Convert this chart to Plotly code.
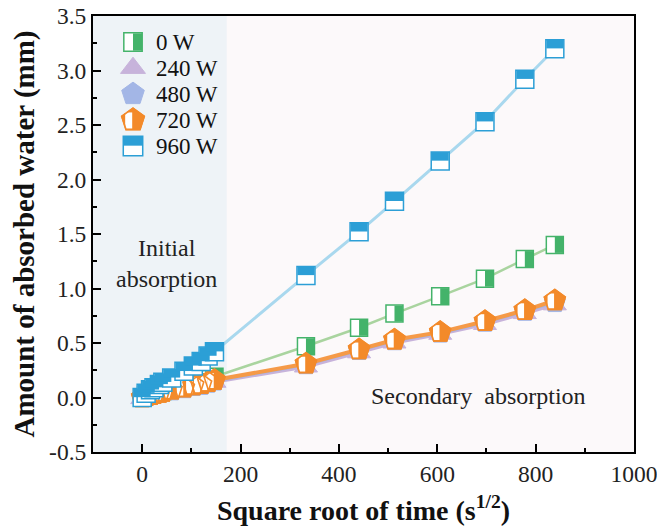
import plotly.graph_objects as go

# ---------------- data ----------------
sqrt_time = [0, 8, 17, 24, 35, 42, 60, 85, 104, 120, 134, 147,
             333, 441, 513, 606, 697, 778, 839]
water_0w = [0.00, 0.02, 0.03, 0.04, 0.05, 0.06, 0.08, 0.11, 0.13, 0.15, 0.17, 0.19,
            0.47, 0.64, 0.77, 0.93, 1.09, 1.27, 1.40]
water_240w = [-0.01, 0.00, 0.01, 0.02, 0.03, 0.04, 0.05, 0.07, 0.09, 0.10, 0.12, 0.14,
              0.28, 0.41, 0.50, 0.58, 0.67, 0.77, 0.85]
water_480w = [0.00, 0.01, 0.02, 0.03, 0.04, 0.05, 0.06, 0.08, 0.10, 0.11, 0.13, 0.15,
              0.30, 0.43, 0.52, 0.59, 0.69, 0.79, 0.87]
water_720w = [0.00, 0.01, 0.02, 0.03, 0.04, 0.05, 0.07, 0.09, 0.11, 0.12, 0.14, 0.16,
              0.31, 0.44, 0.53, 0.60, 0.70, 0.80, 0.89]
water_960w = [0.00, 0.04, 0.07, 0.09, 0.12, 0.14, 0.18, 0.24, 0.29, 0.33, 0.38, 0.42,
              1.12, 1.52, 1.80, 2.17, 2.53, 2.92, 3.20]
legend_labels = ["0 W", "240 W", "480 W", "720 W", "960 W"]
x_ticks = [0, 200, 400, 600, 800, 1000]
y_ticks = [-0.5, 0.0, 0.5, 1.0, 1.5, 2.0, 2.5, 3.0, 3.5]
initial_end = 172

# ---------------- layout constants ----------------
W, H = 657, 528
ML, MR, MT, MB = 93, 23, 16, 76
XR = [-100, 1000]
YR = [-0.5, 3.5]
px_x = (W - ML - MR) / (XR[1] - XR[0])
px_y = (H - MT - MB) / (YR[1] - YR[0])

GREEN, GREEN_L = "#44b36a", "#a9d49f"
PURPLE = "#c7b3db"
LAV = "#a3b6e6"
ORANGE, ORANGE_L = "#f38a2a", "#f59a48"
BLUE, BLUE_L = "#2c9fd6", "#a9d8ee"
SERIF = "Liberation Serif, Times New Roman, serif"

fig = go.Figure()


def add_series(y, name, kind, xs=None, ys=None, xa="x", ya="y", sx=1.0, sy=1.0, lines=True, scale=1.0):
    xs = sqrt_time if xs is None else xs
    ys = y if ys is None else ys
    mode = "lines+markers" if lines else "markers"
    common = dict(xaxis=xa, yaxis=ya, showlegend=False, hoverinfo="skip")
    s = scale
    if kind == "0":
        fig.add_trace(go.Scatter(x=xs, y=ys, mode=mode, name=name,
                                 line=dict(color=GREEN_L, width=2.5),
                                 marker=dict(symbol="square", size=17 * s, color="white",
                                             line=dict(color=GREEN, width=1.5)), **common))
        fig.add_trace(go.Scatter(x=[v + 4.2 * s / sx for v in xs], y=ys, mode="markers",
                                 marker=dict(symbol="line-ns", size=16 * s / 1.4, color=GREEN,
                                             line=dict(color=GREEN, width=8.4 * s)), **common))
    elif kind == "240":
        fig.add_trace(go.Scatter(x=xs, y=ys, mode=mode, name=name,
                                 line=dict(color=PURPLE, width=3),
                                 marker=dict(symbol="triangle-up", size=20 * s, color=PURPLE,
                                             line=dict(color=PURPLE, width=1)), **common))
    elif kind == "480":
        fig.add_trace(go.Scatter(x=xs, y=ys, mode=mode, name=name,
                                 line=dict(color=LAV, width=3),
                                 marker=dict(symbol="pentagon", size=22 * s, color=LAV,
                                             line=dict(color=LAV, width=1)), **common))
    elif kind == "720":
        fig.add_trace(go.Scatter(x=xs, y=ys, mode=mode, name=name,
                                 line=dict(color=ORANGE_L, width=4),
                                 marker=dict(symbol="pentagon", size=22 * s, color=ORANGE,
                                             line=dict(color=ORANGE, width=1.5)), **common))
        fig.add_trace(go.Scatter(x=[v - 4.0 * s / sx for v in xs], y=[v - 0.5 * s / sy for v in ys],
                                 mode="markers",
                                 marker=dict(symbol="line-ns", size=15 * s / 1.4, color="white",
                                             line=dict(color="white", width=6.5 * s)), **common))
        fig.add_trace(go.Scatter(x=xs, y=ys, mode="markers",
                                 marker=dict(symbol="pentagon-open", size=22 * s, color=ORANGE,
                                             line=dict(color=ORANGE, width=1.6)), **common))
    elif kind == "960":
        fig.add_trace(go.Scatter(x=xs, y=ys, mode=mode, name=name,
                                 line=dict(color=BLUE_L, width=3),
                                 marker=dict(symbol="square", size=18 * s, color="white",
                                             line=dict(color=BLUE, width=1.5)), **common))
        fig.add_trace(go.Scatter(x=xs, y=[v + 4.6 * s / sy for v in ys], mode="markers",
                                 marker=dict(symbol="line-ew", size=17 * s / 1.4, color=BLUE,
                                             line=dict(color=BLUE, width=8.6 * s)), **common))


series = [(water_0w, "0"), (water_240w, "240"), (water_480w, "480"),
          (water_720w, "720"), (water_960w, "960")]
for (yv, k), lab in zip(series, legend_labels):
    add_series(yv, lab, k, sx=px_x, sy=px_y)

# ---------------- manual legend (pixel-like overlay axes) ----------------
leg_x = 133
leg_y0, leg_dy = 42, 26
for i, ((yv, k), lab) in enumerate(zip(series, legend_labels)):
    yy = leg_y0 + i * leg_dy
    add_series(None, lab, k, xs=[leg_x], ys=[-yy], xa="x2", ya="y2", lines=False, scale=1.08)
    fig.add_annotation(x=leg_x + 21, y=-yy, xref="x2", yref="y2", text=lab,
                       showarrow=False, xanchor="left", yanchor="middle",
                       font=dict(family=SERIF, size=23, color="#111"))

# ---------------- shading & text ----------------
fig.add_shape(type="rect", xref="x", yref="y", x0=XR[0], x1=initial_end, y0=YR[0], y1=YR[1],
              fillcolor="#eef3f7", line_width=0, layer="below")
fig.add_annotation(x=50, y=1.23, xref="x", yref="y", text="Initial<br>absorption",
                   showarrow=False, font=dict(family=SERIF, size=24, color="#222"))
fig.add_annotation(x=683, y=0.01, xref="x", yref="y", text="Secondary  absorption",
                   showarrow=False, font=dict(family=SERIF, size=24, color="#222"))

axis_common = dict(showline=True, linecolor="black", linewidth=2, mirror=True,
                   ticks="inside", ticklen=8, tickwidth=1.5, tickcolor="black",
                   showgrid=False, zeroline=False, ticklabeloverflow="allow", automargin=False,
                   tickfont=dict(family=SERIF, size=23.5, color="#222"))

fig.update_layout(
    width=W, height=H,
    margin=dict(l=ML, r=MR, t=MT, b=MB, autoexpand=False),
    paper_bgcolor="white", plot_bgcolor="#fcf9fa",
    showlegend=False,
    xaxis=dict(range=XR, tickvals=x_ticks, ticktext=[str(v) for v in x_ticks],
               minor=dict(dtick=100, ticks="inside", ticklen=4, tickwidth=1.5, tickcolor="black"),
               title=dict(text="<b>Square root of time (s<sup>1/2</sup>)</b>",
                          font=dict(family=SERIF, size=28, color="#111"), standoff=14),
               **axis_common),
    yaxis=dict(range=YR, tickvals=y_ticks, ticktext=[f"{v:.1f}" for v in y_ticks],
               minor=dict(dtick=0.25, ticks="inside", ticklen=4, tickwidth=1.5, tickcolor="black"),
               title=dict(text="<b>Amount of absorbed water (mm)</b>",
                          font=dict(family=SERIF, size=29, color="#111"), standoff=6),
               **axis_common),
    xaxis2=dict(overlaying="x", range=[ML, W - MR], visible=False, fixedrange=True),
    yaxis2=dict(overlaying="y", range=[-(H - MB), -MT], visible=False, fixedrange=True),
)

fig.write_html("out.html")
